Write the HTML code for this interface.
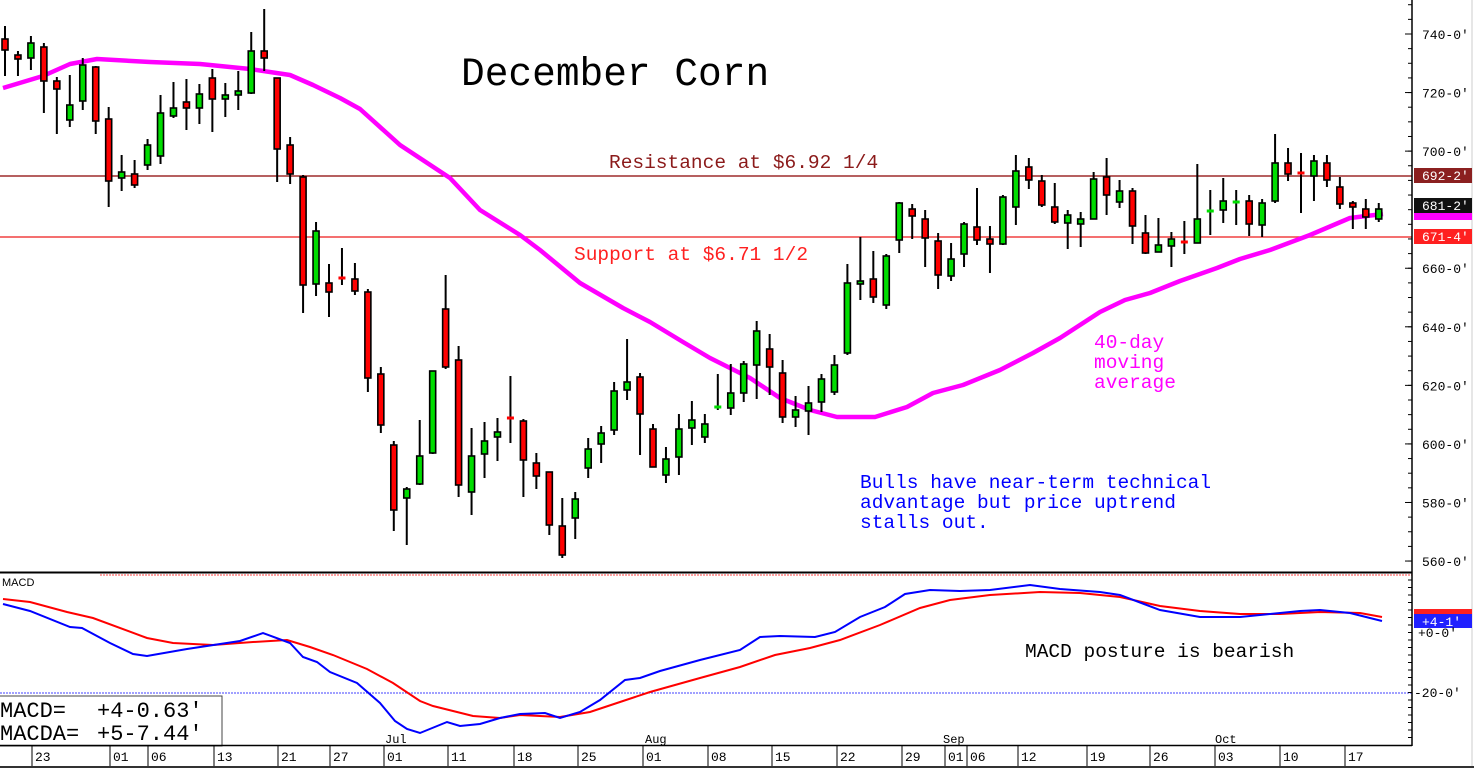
<!DOCTYPE html>
<html><head><meta charset="utf-8"><style>
html,body{margin:0;padding:0;background:#fff;}
svg{display:block;}
</style></head><body>
<svg id="s" width="1474" height="768" xmlns="http://www.w3.org/2000/svg" font-family="Liberation Mono, monospace">
<rect width="1474" height="768" fill="#fff"/>
<line x1="0" y1="176" x2="1412" y2="176" stroke="#8b0000" stroke-width="1.2"/>
<line x1="0" y1="237" x2="1412" y2="237" stroke="#f04040" stroke-width="1.5"/>
<polyline fill="none" stroke="#ff00ff" stroke-width="4.5" stroke-linejoin="round" points="3,88 43,76 70,64 97,59 150,62 200,64 250,69 290,75 313,85 340,98 360,109 400,145 450,178 480,210 520,235 540,250 580,283 623,308 650,322 683,342 710,358 750,378 780,398 810,410 837,417 875,417 907,407 933,393 963,385 1000,370 1033,353 1060,338 1100,312 1125,300 1150,293 1180,281 1217,268 1240,259 1270,250 1310,235 1350,218 1383,214"/>
<g id="c"></g>
<text x="461" y="85" font-size="39.5" fill="#000">December Corn</text>
<text x="609" y="168" font-size="19.5" fill="#8b1a1a">Resistance at $6.92 1/4</text>
<text x="574" y="260" font-size="19.5" fill="#ff2020">Support at $6.71 1/2</text>
<text font-size="19.5" fill="#ff00ff"><tspan x="1094" y="348">40-day</tspan><tspan x="1094" y="368">moving</tspan><tspan x="1094" y="388">average</tspan></text>
<text font-size="19.5" fill="#0000ff"><tspan x="860" y="488">Bulls have near-term technical</tspan><tspan x="860" y="508">advantage but price uptrend</tspan><tspan x="860" y="528">stalls out.</tspan></text>
<line x1="0" y1="572.5" x2="1412" y2="572.5" stroke="#000" stroke-width="2"/>
<line x1="100" y1="575" x2="1412" y2="575" stroke="#ff4040" stroke-width="1" stroke-dasharray="2,1"/>
<text x="2" y="586" font-family="Liberation Sans, sans-serif" font-size="11" fill="#000">MACD</text>
<line x1="0" y1="693" x2="1412" y2="693" stroke="#4040ff" stroke-width="1" stroke-dasharray="2,1"/>
<polyline fill="none" stroke="#ff0000" stroke-width="2" points="3,599 30,602 67,612 93,618 147,638 173,643 213,645 253,642 287,640 310,647 333,655 367,669 393,683 420,701 433,706 473,716 500,718 520,715 560,717 590,712 620,702 650,692 700,678 740,667 775,655 810,648 840,640 880,625 920,608 950,600 990,595 1040,592 1080,593 1120,597 1160,606 1200,611 1240,614 1280,614 1320,612 1360,613 1382,617"/>
<polyline fill="none" stroke="#0000ff" stroke-width="2" points="3,604 30,611 70,627 82,628 110,643 133,654 147,656 187,649 240,641 263,633 290,643 303,657 317,662 330,672 357,683 380,703 395,721 407,729 420,733 447,722 460,726 480,724 500,718 520,714 545,713 560,718 580,712 600,700 625,680 640,678 660,671 700,660 740,650 760,637 780,636 815,637 835,632 860,617 885,607 905,594 930,590 960,591 990,590 1030,585 1060,589 1100,592 1120,595 1160,610 1200,617 1240,617 1270,614 1300,611 1320,610 1350,613 1382,621"/>
<text x="1025" y="657" font-size="19.5" fill="#000">MACD posture is bearish</text>
<rect x="-1" y="696" width="223" height="50" fill="#fff" stroke="#444" stroke-width="1"/>
<text font-size="22" fill="#000"><tspan x="0" y="717">MACD=</tspan><tspan x="97" y="717">+4-0.63'</tspan><tspan x="0" y="740">MACDA=</tspan><tspan x="97" y="740">+5-7.44'</tspan></text>
<line x1="0" y1="745.5" x2="1412" y2="745.5" stroke="#000" stroke-width="1.5"/>
<line x1="1412" y1="0" x2="1412" y2="746" stroke="#000" stroke-width="1.5"/>
<line x1="1472" y1="0" x2="1472" y2="768" stroke="#ccc" stroke-width="1"/>
<g id="ax" font-size="13" fill="#000"></g>
<rect x="1414" y="168" width="58" height="15" fill="#8b2020"/>
<text x="1422" y="180" font-size="13" fill="#fff">692-2'</text>
<rect x="1414" y="210" width="58" height="10" fill="#ff00ff"/>
<rect x="1414" y="198" width="58" height="15" fill="#111"/>
<text x="1422" y="210" font-size="13" fill="#fff">681-2'</text>
<rect x="1414" y="229" width="58" height="15" fill="#ff2020"/>
<text x="1422" y="241" font-size="13" fill="#fff">671-4'</text>
<rect x="1414" y="609" width="58" height="9" fill="#ff2020"/>
<rect x="1414" y="614" width="58" height="14" fill="#2020ff"/>
<text x="1422" y="626" font-size="13" fill="#fff">+4-1'</text>
<text x="1418" y="637" font-size="13" fill="#000">+0-0'</text>
<text x="1414" y="697" font-size="13" fill="#000">-20-0'</text>
<rect x="0" y="766" width="1474" height="2" fill="#333"/>
</svg>
<script>
var S="http://www.w3.org/2000/svg";
function el(p,t,a,txt){var e=document.createElementNS(S,t);for(var k in a)e.setAttribute(k,a[k]);if(txt)e.textContent=txt;p.appendChild(e);return e;}
var D=[[26,76,39,50,'r'],[51,76,55,59,'r'],[36,70,43,58,'g'],[43,113,47,81,'r'],[77,134,81,89,'r'],[75,127,105,120,'g'],[58,110,65,101,'g'],[66,134,67,121,'r'],[107,207,119,181,'r'],[155,191,172,178,'g'],[160,188,174,185,'r'],[139,170,145,165,'g'],[95,164,113,156,'g'],[82,118,108,116,'g'],[79,130,102,108,'r'],[84,124,94,108,'g'],[69,132,78,99,'r'],[83,117,95,99,'g'],[71,110,91,95,'g'],[32,94,51,93,'g'],[9,71,51,58,'r'],[78,182,78,149,'r'],[137,184,145,174,'r'],[175,313,177,285,'r'],[222,296,231,284,'g'],[264,317,283,292,'r'],[248,285,278,278,'r'],[263,295,279,291,'r'],
[289,392,292,378,'r'],[367,433,374,425,'r'],[441,531,445,510,'r'],[487,545,489,498,'g'],[420,485,456,484,'g'],[371,454,371,453,'g'],[275,369,309,367,'r'],[346,497,360,485,'r'],[428,515,456,492,'g'],[422,478,441,454,'g'],[418,461,432,437,'g'],[376,443,418,418,'r'],[419,497,421,460,'r'],[453,489,463,476,'r'],[472,535,472,525,'r'],[498,558,526,555,'r'],[492,539,499,518,'g'],[438,478,449,468,'g'],[426,463,433,444,'g'],[382,435,391,430,'g'],[339,400,382,390,'g'],[373,455,377,414,'r'],[424,467,429,467,'r'],[447,483,459,475,'g'],[414,475,429,457,'g'],[401,445,420,428,'g'],[414,443,424,437,'g'],
[374,410,407,407,'g'],[364,415,393,408,'g'],[361,402,364,393,'g'],[321,399,331,365,'g'],[334,395,349,367,'r'],[360,423,373,417,'r'],[396,427,410,417,'g'],[386,435,403,411,'g'],[374,412,379,402,'g'],[355,395,365,392,'g'],[264,355,283,353,'g'],[237,300,281,284,'g'],[251,303,279,297,'r'],[254,309,256,305,'g'],[202,253,203,240,'g'],[204,239,209,216,'r'],[210,267,219,238,'r'],[233,289,241,275,'r'],[243,281,259,276,'g'],[222,267,224,254,'g'],[188,245,227,240,'r'],[226,273,239,244,'r'],[195,245,197,244,'g'],[155,225,171,207,'g'],[158,189,167,180,'r'],[175,207,181,205,'r'],
[183,224,207,222,'r'],[210,249,215,223,'g'],[212,247,219,224,'g'],[172,219,179,219,'g'],[158,215,177,195,'r'],[180,208,191,202,'g'],[188,244,191,226,'r'],[215,254,233,253,'r'],[218,252,245,252,'g'],[232,267,239,246,'g'],[221,254,242,242,'r'],[164,243,219,243,'g'],[190,235,211,211,'g'],[178,223,201,210,'g'],[190,225,202,202,'g'],[195,236,201,224,'r'],[199,237,203,225,'g'],[134,203,163,201,'g'],[148,181,163,174,'r'],[153,213,173,173,'r'],[155,201,161,176,'g'],[155,187,163,180,'r'],[177,209,187,204,'r'],[201,229,203,207,'r'],[199,229,209,217,'r'],[203,222,209,219,'g']];
var g=document.getElementById('c');
D.forEach(function(d,i){var x=5+i*12.96;var col=d[4]=='r'?'#ff0000':'#00dd00';
el(g,'line',{x1:x,y1:d[0],x2:x,y2:d[1],stroke:'#000','stroke-width':2});
if(d[3]-d[2]<2){el(g,'rect',{x:x-3.5,y:d[2]-1.5,width:7,height:3,fill:col});}
else el(g,'rect',{x:x-3,y:d[2],width:6,height:d[3]-d[2],fill:col,stroke:'#000','stroke-width':1.6});});
var ax=document.getElementById('ax');
for(var p=560;p<=750;p+=5){var y=34+(740-p)*2.928;if(y<0)continue;el(ax,'line',{x1:1408,y1:y,x2:1412,y2:y,stroke:'#000','stroke-width':1});}
[740,720,700,660,640,620,600,580,560].forEach(function(p){var y=34+(740-p)*2.928;el(ax,'line',{x1:1405,y1:y,x2:1412,y2:y,stroke:'#000','stroke-width':1});el(ax,'text',{x:1422,y:y+5},p+"-0'");});
for(var y=580;y<745;y+=7.5){el(ax,'line',{x1:1408,y1:y,x2:1412,y2:y,stroke:'#000','stroke-width':1});}
[[32,'23'],[110,'01'],[148,'06'],[214,'13'],[278,'21'],[330,'27'],[384,'01'],[448,'11'],[514,'18'],[578,'25'],[643,'01'],[708,'08'],[772,'15'],[837,'22'],[902,'29'],[945,'01'],[967,'06'],[1018,'12'],[1087,'19'],[1150,'26'],[1215,'03'],[1280,'10'],[1345,'17']].forEach(function(t){
el(ax,'line',{x1:t[0],y1:746,x2:t[0],y2:766,stroke:'#000','stroke-width':1});el(ax,'text',{x:t[0]+3,y:761},t[1]);});
[[385,'Jul'],[645,'Aug'],[943,'Sep'],[1215,'Oct']].forEach(function(t){el(ax,'text',{x:t[0],y:743,'font-size':12},t[1]);});
</script>
</body></html>
